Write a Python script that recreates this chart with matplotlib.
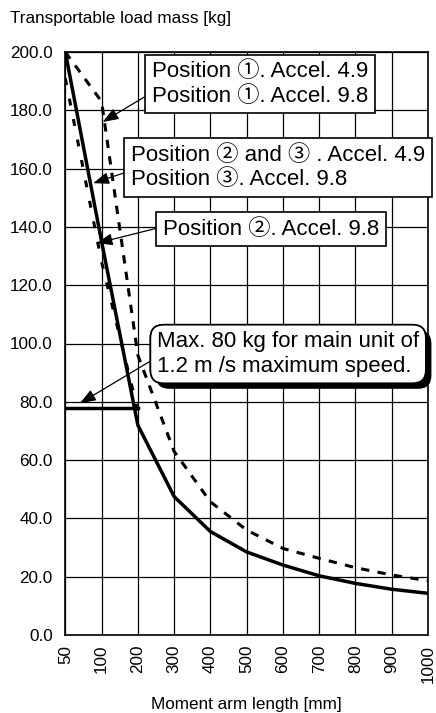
import matplotlib
matplotlib.use('Agg')
import matplotlib.pyplot as plt
import matplotlib.patheffects as pe
import numpy as np

plt.rcParams['font.family'] = ['Liberation Sans', 'Noto Sans CJK JP', 'DejaVu Sans']
plt.rcParams['lines.scale_dashes'] = False

# moment arm length [mm] (category axis)
arm = ['50', '100', '200', '300', '400', '500', '600', '700', '800', '900', '1000']
# transportable load mass [kg]
pos23_49 = [200, 135, 72, 47.5, 35.5, 28.5, 24, 20.3, 17.7, 15.7, 14.3]   # solid
pos1 = [200, 183, 96, 63, 45.7, 36, 29.7, 26.3, 23.1, 20.6, 18.6]          # dashed
pos2_98 = [191, 128, 77, np.nan, np.nan, np.nan, np.nan, np.nan, np.nan, np.nan, np.nan]
cap_x = ['50', '100', '200']
cap_y = [78, 78, 78]

x = np.arange(len(arm))
cx = np.arange(len(cap_x))

fig = plt.figure(figsize=(4.36, 7.13), dpi=100)
ax = fig.add_axes([65.3 / 436, 1 - 635 / 713, 362.7 / 436, 583 / 713])

ax.plot(x, pos2_98, color='black', lw=2.2, dashes=(5, 10))
ax.plot(x, pos1, color='black', lw=2.2, dashes=(6, 6))
ax.plot(x, pos23_49, color='black', lw=2.5, solid_joinstyle='miter')
ax.plot(cx, cap_y, color='black', lw=2.5)

ax.set_xlim(0, len(arm) - 1)
ax.set_ylim(0, 200)
ax.set_xticks(x)
ax.set_xticklabels(arm, rotation=90, fontsize=12.3)
ax.set_yticks(np.arange(0, 201, 20))
ax.set_yticklabels(['%.1f' % v for v in np.arange(0, 201, 20)], fontsize=12.3)
ax.tick_params(length=0, pad=9)
ax.tick_params(axis='x', pad=7)
ax.grid(True, color='black', lw=0.9)
ax.set_axisbelow(True)
for s in ax.spines.values():
    s.set_linewidth(1.2)

fig.text(10 / 436, 1 - 18 / 713, 'Transportable load mass [kg]', fontsize=12.3, va='center')
fig.text(246.5 / 436, 1 - 704 / 713, 'Moment arm length [mm]', fontsize=12.3, ha='center', va='center')

box = dict(boxstyle='square,pad=0.3', fc='white', ec='black', lw=1.2)


def arrow(rel):
    return dict(arrowstyle='-|>,head_length=0.8,head_width=0.3', mutation_scale=12,
                color='black', lw=0.9, shrinkA=0, shrinkB=0, relpos=(0, rel))


fs = 16
ax.annotate('Position \u2460. Accel. 4.9\nPosition \u2460. Accel. 9.8', xy=(1.03, 176),
            xytext=(0.238, 0.945), textcoords='axes fraction', fontsize=fs,
            ha='left', va='center', bbox=box, arrowprops=arrow(0.31), zorder=5)
ax.annotate('Position \u2461 and \u2462 . Accel. 4.9\nPosition \u2462. Accel. 9.8', xy=(0.77, 155),
            xytext=(0.181, 0.802), textcoords='axes fraction', fontsize=fs,
            ha='left', va='center', bbox=box, arrowprops=arrow(0.43), zorder=5)
ax.annotate('Position \u2461. Accel. 9.8', xy=(0.865, 134.4),
            xytext=(0.269, 0.696), textcoords='axes fraction', fontsize=fs,
            ha='left', va='center', bbox=box, arrowprops=arrow(0.62), zorder=5)
t = ax.annotate('Max. 80 kg for main unit of\n1.2 m /s maximum speed.', xy=(0.405, 79.5),
                xytext=(0.253, 0.482), textcoords='axes fraction', fontsize=fs,
                ha='left', va='center',
                bbox=dict(boxstyle='round,pad=0.3,rounding_size=0.6', fc='white', ec='black', lw=1.2),
                arrowprops=arrow(0.43), zorder=5)
t.get_bbox_patch().set_path_effects([pe.withSimplePatchShadow(offset=(4, -4), shadow_rgbFace='black', alpha=1),
                                     pe.Normal()])

fig.savefig('out.png', dpi=100)
